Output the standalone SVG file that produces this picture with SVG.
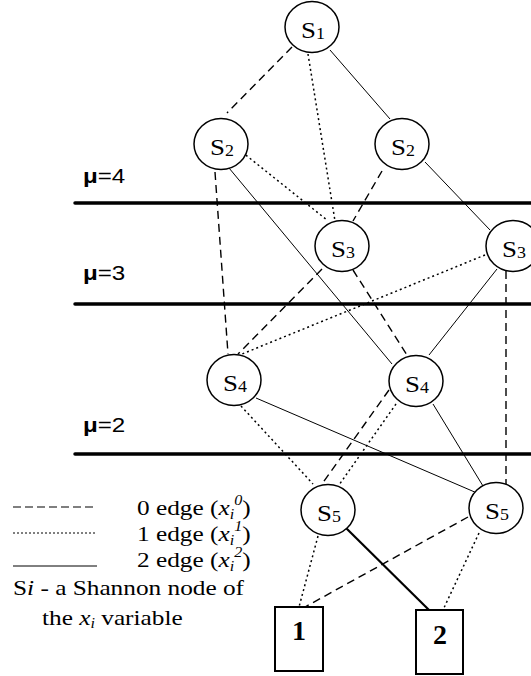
<svg xmlns="http://www.w3.org/2000/svg" width="531" height="676" viewBox="0 0 531 676">
<style>
.node{fill:#fff;stroke:#000;stroke-width:1.5}
.lbl{font-family:"Liberation Serif","Times New Roman",serif;font-size:24px;fill:#000}
.sub{font-size:16px}
.e{fill:none;stroke:#000;stroke-width:1}
.d0{stroke-dasharray:8 5;stroke-width:1.4}
.d1{stroke-dasharray:2 3;stroke-width:1.5}
.thick{stroke:#000;stroke-width:3.5;stroke-linecap:round}
.mu{font-family:"Liberation Sans",Arial,sans-serif;font-size:21px;fill:#000}
.box{fill:#fff;stroke:#000;stroke-width:2}
.num{font-family:"Liberation Serif","Times New Roman",serif;font-size:28px;font-weight:bold;text-anchor:middle}
.leg{font-family:"Liberation Serif","Times New Roman",serif;font-size:22px;fill:#000}
.it{font-style:italic}
.ss{font-size:14px;font-style:italic}
</style>
<g id="levels">
<line class="thick" x1="75" y1="203" x2="531" y2="203"/>
<line class="thick" x1="75" y1="304" x2="531" y2="304"/>
<line class="thick" x1="75" y1="454" x2="531" y2="454"/>
<text class="mu" transform="translate(83,183) scale(1.15,1)"><tspan font-weight="bold">μ</tspan>=4</text>
<text class="mu" transform="translate(83,280) scale(1.15,1)"><tspan font-weight="bold">μ</tspan>=3</text>
<text class="mu" transform="translate(83,432) scale(1.15,1)"><tspan font-weight="bold">μ</tspan>=2</text>
</g>
<g id="connectors">
<line class="e d0" x1="292" y1="47" x2="227" y2="113"/>
<line class="e d1" x1="308" y1="54" x2="335" y2="221"/>
<line class="e" x1="330" y1="50" x2="390" y2="119"/>
<line class="e d1" x1="242" y1="152" x2="327" y2="220"/>
<line class="e d0" x1="215" y1="172" x2="228" y2="354"/>
<line class="e" x1="229" y1="168" x2="392" y2="364"/>
<line class="e d0" x1="382" y1="171" x2="353" y2="221"/>
<line class="e" x1="425" y1="162" x2="490" y2="230"/>
<line class="e d0" x1="322" y1="269" x2="238" y2="354"/>
<line class="e d0" x1="353" y1="270" x2="407" y2="355"/>
<line class="e d1" x1="485" y1="255" x2="242" y2="354"/>
<line class="e" x1="497" y1="269" x2="429" y2="355"/>
<line class="e d0" x1="506" y1="271" x2="506" y2="484"/>
<line class="e" x1="256" y1="398" x2="477" y2="493"/>
<line class="e d1" x1="241" y1="406" x2="313" y2="484"/>
<line class="e d0" x1="389" y1="390" x2="322" y2="484"/>
<line class="e d1" x1="396" y1="404" x2="339" y2="485"/>
<line class="e" x1="433" y1="404" x2="483" y2="486"/>
<line class="e d1" x1="318" y1="536" x2="299" y2="607"/>
<line class="e" style="stroke-width:2.2" x1="346" y1="528" x2="429" y2="610"/>
<line class="e d0" x1="468" y1="517" x2="305" y2="607"/>
<line class="e d1" x1="479" y1="533" x2="443" y2="610"/>
</g>
<g id="S1"><ellipse class="node" cx="312" cy="27" rx="27" ry="25.5"/><text class="lbl" transform="translate(301,38) scale(1.12,1)">S<tspan class="sub" dy="1">1</tspan></text></g>
<g id="S2a"><ellipse class="node" cx="221" cy="144" rx="27" ry="25.5"/><text class="lbl" transform="translate(210,155) scale(1.12,1)">S<tspan class="sub" dy="1">2</tspan></text></g>
<g id="S2b"><ellipse class="node" cx="402" cy="144" rx="27" ry="25.5"/><text class="lbl" transform="translate(391,155) scale(1.12,1)">S<tspan class="sub" dy="1">2</tspan></text></g>
<g id="S3a"><ellipse class="node" cx="342" cy="246" rx="27" ry="25.5"/><text class="lbl" transform="translate(331,257) scale(1.12,1)">S<tspan class="sub" dy="1">3</tspan></text></g>
<g id="S3b"><ellipse class="node" cx="513" cy="246" rx="27" ry="25.5"/><text class="lbl" transform="translate(502,257) scale(1.12,1)">S<tspan class="sub" dy="1">3</tspan></text></g>
<g id="S4a"><ellipse class="node" cx="234" cy="380" rx="27" ry="25.5"/><text class="lbl" transform="translate(223,391) scale(1.12,1)">S<tspan class="sub" dy="1">4</tspan></text></g>
<g id="S4b"><ellipse class="node" cx="416" cy="381" rx="27" ry="25.5"/><text class="lbl" transform="translate(405,392) scale(1.12,1)">S<tspan class="sub" dy="1">4</tspan></text></g>
<g id="S5a"><ellipse class="node" cx="328" cy="510" rx="27" ry="25.5"/><text class="lbl" transform="translate(317,521) scale(1.12,1)">S<tspan class="sub" dy="1">5</tspan></text></g>
<g id="S5b"><ellipse class="node" cx="496" cy="508" rx="27" ry="25.5"/><text class="lbl" transform="translate(485,519) scale(1.12,1)">S<tspan class="sub" dy="1">5</tspan></text></g>
<g id="T1"><rect class="box" x="275" y="607" width="48" height="64"/><text class="num" x="299" y="640">1</text></g>
<g id="T2"><rect class="box" x="416" y="610" width="47" height="64"/><text class="num" x="440" y="644">2</text></g>
<g id="legend">
<line class="e d0" style="stroke-dasharray:8 4;stroke-width:1.2" x1="13" y1="507" x2="97" y2="507"/>
<line class="e d1" style="stroke-dasharray:2 2;stroke-width:1" x1="13" y1="533" x2="97" y2="533"/>
<line class="e" x1="13" y1="566" x2="97" y2="566"/>
<text class="leg" transform="translate(137,515) scale(1.15,1)">0 edge (<tspan class="it">x</tspan><tspan class="ss" dy="4">i</tspan><tspan class="ss" dy="-14">0</tspan><tspan dy="10">)</tspan></text>
<text class="leg" transform="translate(137,541) scale(1.15,1)">1 edge (<tspan class="it">x</tspan><tspan class="ss" dy="4">i</tspan><tspan class="ss" dy="-14">1</tspan><tspan dy="10">)</tspan></text>
<text class="leg" transform="translate(137,567) scale(1.15,1)">2 edge (<tspan class="it">x</tspan><tspan class="ss" dy="4">i</tspan><tspan class="ss" dy="-14">2</tspan><tspan dy="10">)</tspan></text>
<text class="leg" transform="translate(13,595) scale(1.15,1)">S<tspan class="it">i</tspan> - a Shannon node of</text>
<text class="leg" transform="translate(42,625) scale(1.15,1)">the <tspan class="it">x</tspan><tspan class="ss" dy="3">i</tspan><tspan dy="-3"> variable</tspan></text>
</g>
</svg>
